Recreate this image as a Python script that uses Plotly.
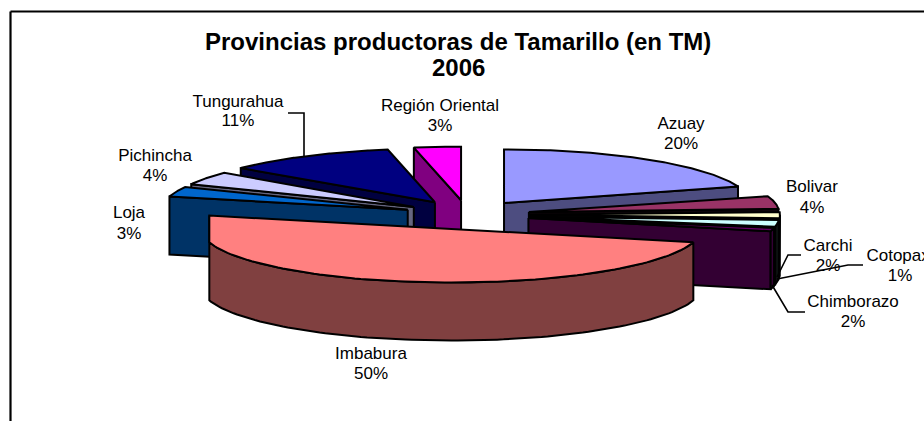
"""Provincias productoras de Tamarillo: pastel 3D separado, dibujado con polígonos."""

import numpy as np
import plotly.graph_objects as go

provincias = ["Azuay", "Bolivar", "Carchi", "Chimborazo", "Cotopaxi", "Imbabura",
              "Loja", "Pichincha", "Tungurahua", "Región Oriental"]
porcentajes = [20, 4, 2, 2, 1, 50, 3, 4, 11, 3]
color_cara = ["#9999FF", "#993366", "#FFFFCC", "#CCFFFF", "#660066", "#FF8080",
              "#0066CC", "#CCCCFF", "#000080", "#FF00FF"]
# Las paredes de las porciones finas casi no se ven: quedan como banda negra
color_lado = ["#4D4D80", "#0D0509", "#10100C", "#0C1010", "#330033", "#804040",
              "#003366", "#666680", "#000040", "#800080"]
titulo = ["Provincias productoras de Tamarillo (en TM)", "2006"]

# Geometría del pastel en píxeles de la página
CX, CY = 467.0, 214.8
RADIOS_X = [246, 250, 250, 250, 250, 250, 246, 246, 252, 252]  # la perspectiva no es uniforme
RADIO_Y = 53.6
SEPARACION_X, SEPARACION_Y = 63.0, 14.6
ALTO = 58.0
ANCHO_MAX = 242.0  # la porción grande no pasa de sus dos esquinas

# Centro de cada línea de texto: (x, y nombre, y porcentaje)
pos_etiquetas = {
    "Azuay": (681, 125, 145),
    "Bolivar": (812, 188, 209),
    "Carchi": (828, 247, 267),
    "Chimborazo": (853, 303, 323),
    "Cotopaxi": (900, 257, 277),
    "Imbabura": (371, 355, 375),
    "Loja": (129, 214, 235),
    "Pichincha": (155, 157, 177),
    "Tungurahua": (238, 103, 122),
    "Región Oriental": (440, 107, 127),
}
lineas_guia = [
    ([304, 304, 288], [157, 113, 113]),
    ([777, 788, 801], [277, 255, 255]),
    ([777, 848, 863], [279, 265, 265]),
    ([772, 788, 805], [285, 312, 312]),
]

FUENTE = "Liberation Sans, Arial, sans-serif"

fin = np.cumsum(porcentajes) * 3.6
inicio = fin - np.array(porcentajes) * 3.6
medio = (inicio + fin) / 2


def punta(i):
    a = np.radians(medio[i])
    return CX + SEPARACION_X * np.sin(a), CY - SEPARACION_Y * np.cos(a)


def borde(i, grados):
    a = np.radians(grados)
    px, py = punta(i)
    dx = RADIOS_X[i] * np.sin(a)
    if i == 5:
        dx = np.clip(dx, -ANCHO_MAX, ANCHO_MAX)
    return px + dx, py - RADIO_Y * np.cos(a)


def poligono(fig, xs, ys, color):
    fig.add_trace(
        go.Scatter(
            x=xs,
            y=ys,
            mode="lines",
            fill="toself",
            fillcolor=color,
            line=dict(color="black", width=2),
            hoverinfo="skip",
            showlegend=False,
        )
    )


def dibuja_porcion(fig, i):
    px, py = punta(i)
    # Cara de corte visible: la izquierda muestra el inicio, la derecha el final
    if i != 5:
        corte = fin[i] if i < 5 else inicio[i]
        ex, ey = borde(i, corte)
        poligono(fig, [px, ex, ex, px, px], [py, ey, ey + ALTO, py + ALTO, py], color_lado[i])
    # Pared exterior: sólo el tramo del arco que mira al frente
    a0, a1 = max(inicio[i], 90.0), min(fin[i], 270.0)
    if i == 5:
        a1 = fin[i]
    if a1 > a0:
        arco = np.linspace(a0, a1, 120)
        ax, ay = borde(i, arco)
        poligono(
            fig,
            list(ax) + list(ax[::-1]) + [ax[0]],
            list(ay) + list(ay[::-1] + ALTO) + [ay[0]],
            color_lado[i],
        )
    # Cara superior
    arco = np.linspace(inicio[i], fin[i], 120)
    ax, ay = borde(i, arco)
    poligono(fig, [px] + list(ax) + [px], [py] + list(ay) + [py], color_cara[i])


fig = go.Figure()

# De atrás hacia delante
for i in [9, 8, 7, 6, 0, 1, 2, 3, 4, 5]:
    dibuja_porcion(fig, i)

x_txt = [pos_etiquetas[p][0] for p in provincias]
for fila, textos in ((1, provincias), (2, [f"{v}%" for v in porcentajes])):
    fig.add_trace(
        go.Scatter(
            x=x_txt,
            y=[pos_etiquetas[p][fila] for p in provincias],
            mode="text",
            text=textos,
            textposition="middle center",
            textfont=dict(family=FUENTE, size=17, color="black"),
            hoverinfo="skip",
            showlegend=False,
        )
    )

for lx, ly in lineas_guia:
    fig.add_trace(
        go.Scatter(
            x=lx,
            y=ly,
            mode="lines",
            line=dict(color="black", width=1.6),
            hoverinfo="skip",
            showlegend=False,
        )
    )

# Marco de la imagen: sólo se ven los lados superior e izquierdo
fig.add_shape(type="line", x0=10.5, x1=10.5, y0=11.5, y1=421, line=dict(color="black", width=2.2))
fig.add_shape(type="line", x0=10.5, x1=924, y0=11.5, y1=11.5, line=dict(color="black", width=2.2))

for linea, y_linea in zip(titulo, (41, 67)):
    fig.add_annotation(
        x=458,
        y=y_linea,
        text=f"<b>{linea}</b>",
        showarrow=False,
        font=dict(family=FUENTE, size=24, color="black"),
    )

fig.update_xaxes(range=[0, 924], visible=False, fixedrange=True)
fig.update_yaxes(range=[421, 0], visible=False, fixedrange=True)
fig.update_layout(
    width=924,
    height=421,
    margin=dict(l=0, r=0, t=0, b=0),
    paper_bgcolor="white",
    plot_bgcolor="white",
)

fig.write_html(
    "out.html",
    config={"displayModeBar": False},
    post_script="document.body.style.margin='0';",
)
